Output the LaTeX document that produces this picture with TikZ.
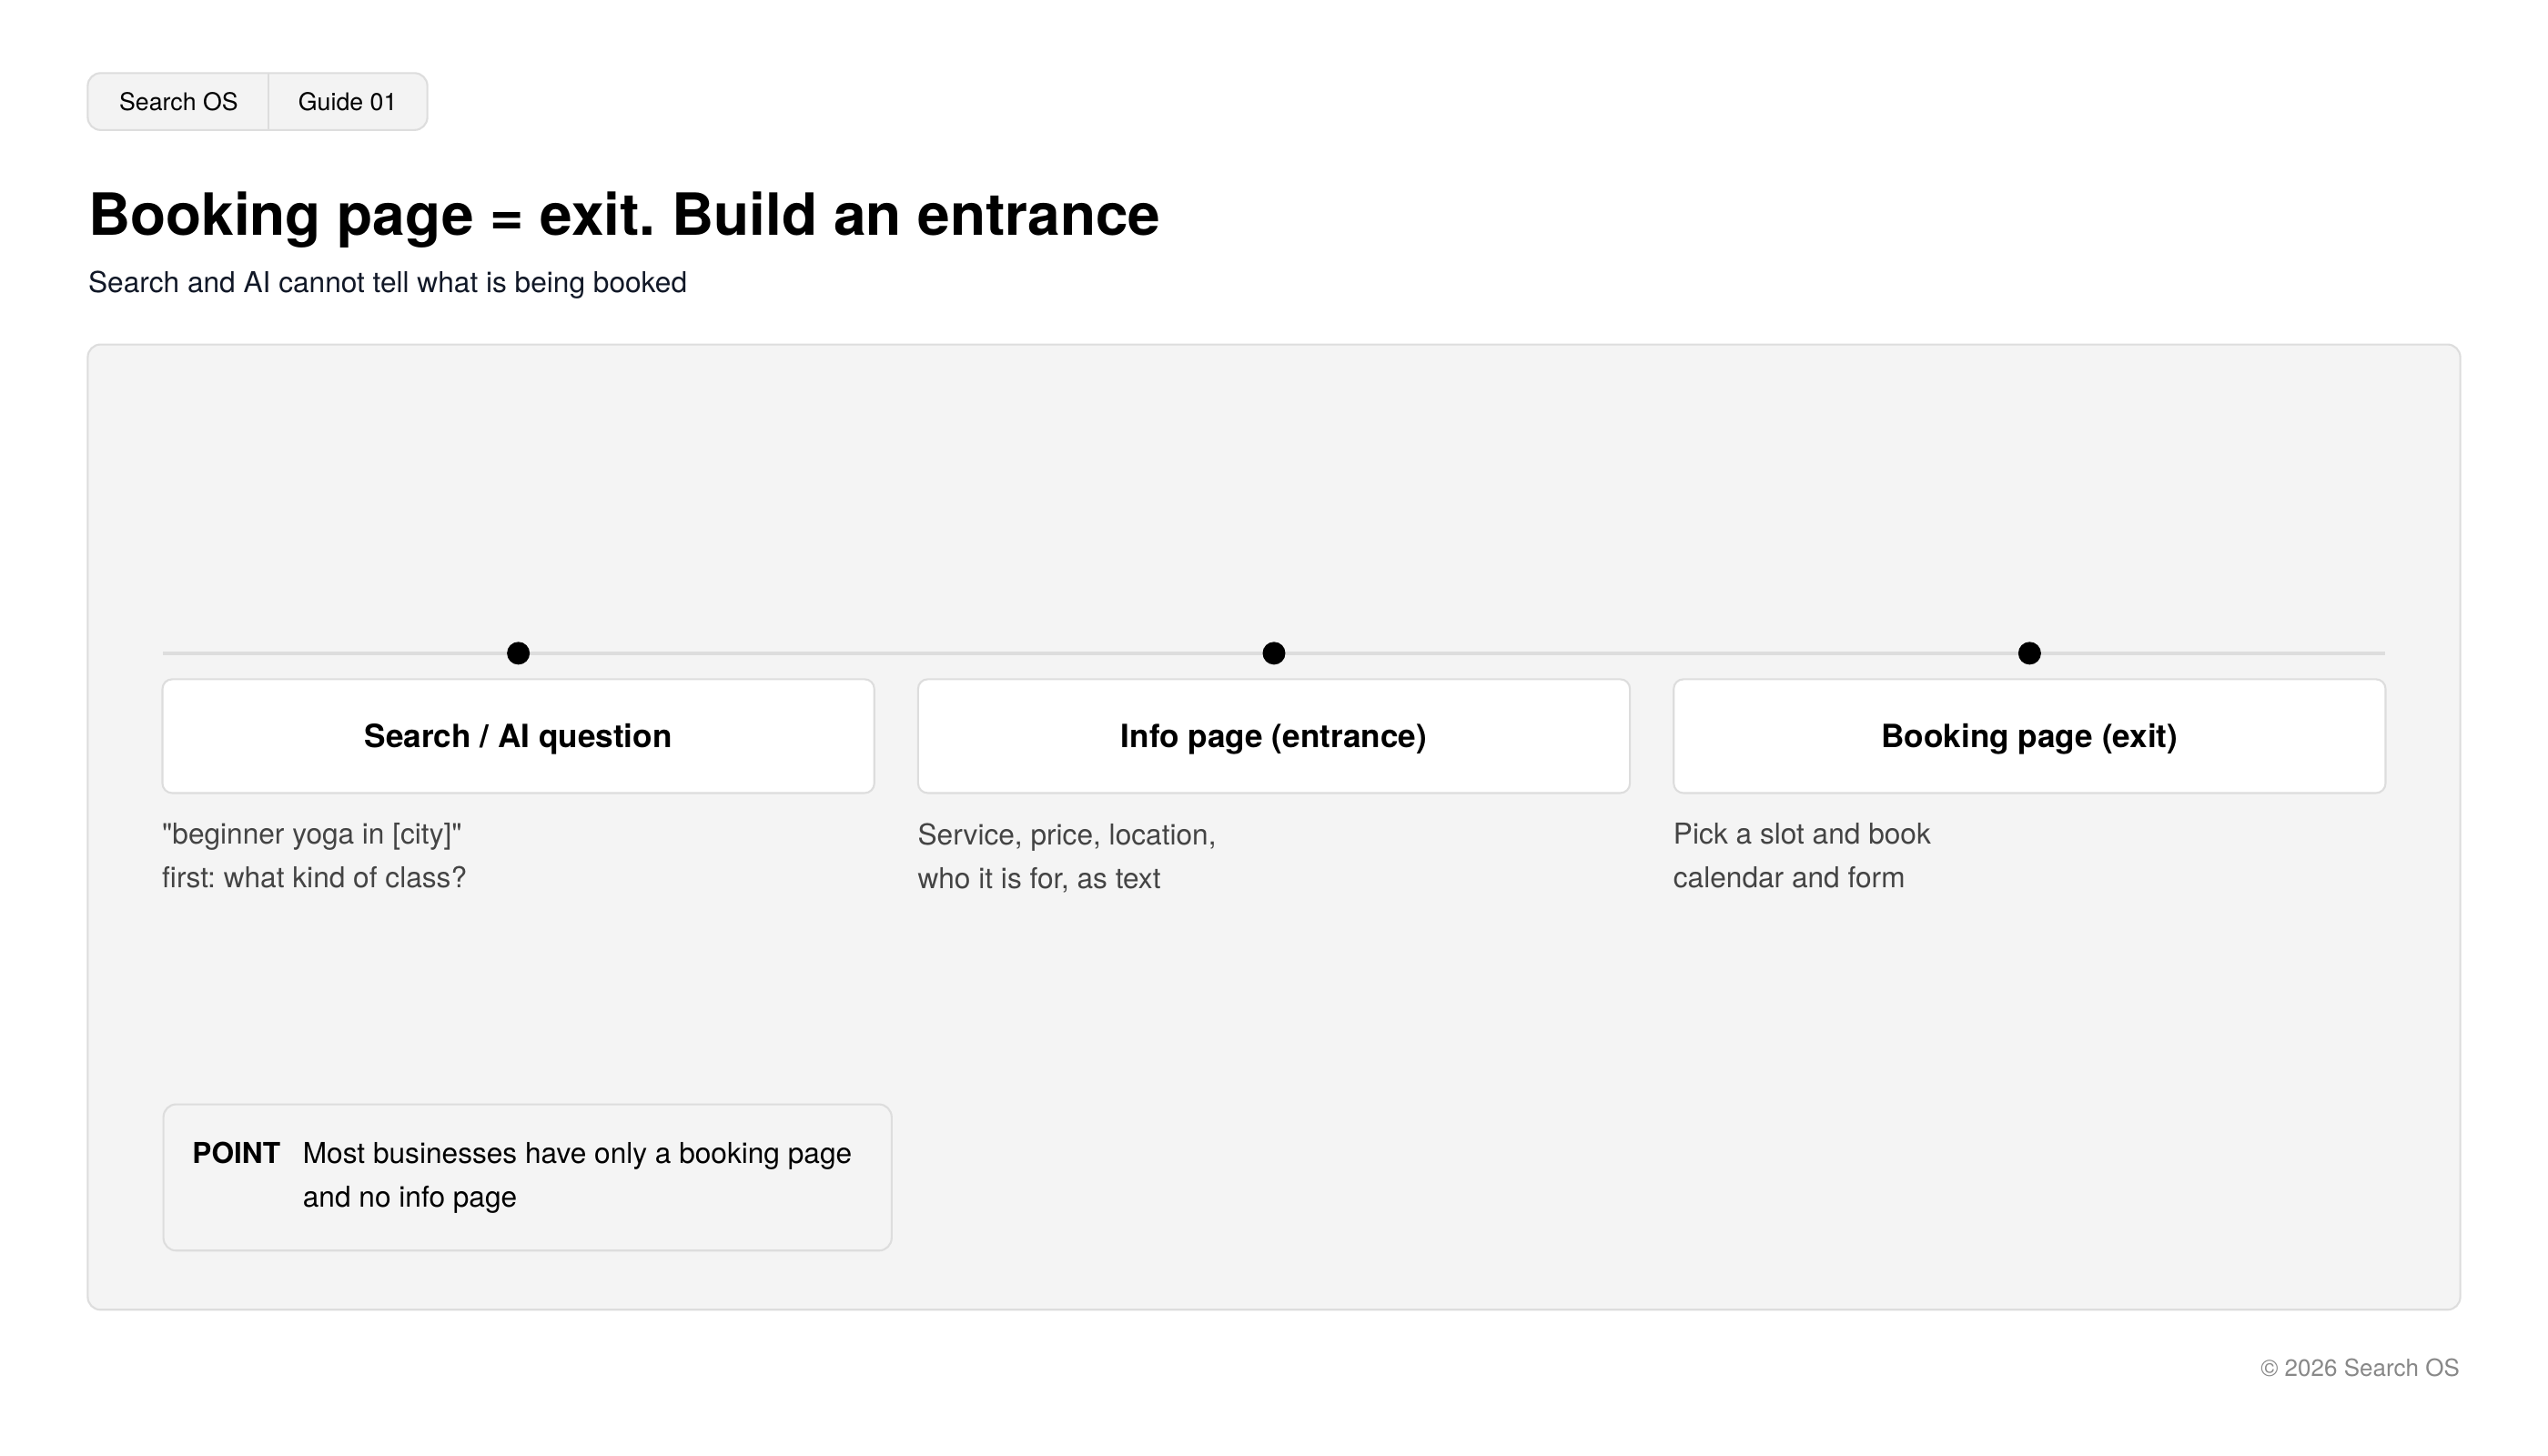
\documentclass[tikz,border=0pt]{standalone}
\usepackage{fontspec}
\setmainfont{TeX Gyre Heros}
\usetikzlibrary{positioning}
\frenchspacing

\definecolor{panelbg}{HTML}{F4F4F4}
\definecolor{tagbg}{HTML}{F3F3F3}
\definecolor{linegray}{HTML}{DDDDDD}
\definecolor{desctext}{HTML}{444444}
\definecolor{foottext}{HTML}{888888}
\definecolor{subtext}{HTML}{111827}

\begin{document}
\begin{tikzpicture}[x=0.017857cm,y=-0.017857cm,
  stage/.style={draw=linegray,line width=0.6pt,fill=white,rounded corners=3pt,
    minimum width=7.82cm,minimum height=1.25cm,inner sep=0pt,
    font=\bfseries\fontsize{10}{12}\selectfont,text height=7.2pt,text depth=0pt},
  note/.style={align=left,inner sep=0pt,text=desctext,font=\fontsize{9}{13.7}\selectfont},
  stopdot/.style={circle,fill=black,minimum size=0.25cm,inner sep=0pt},
  tagtext/.style={inner sep=0pt,font=\fontsize{7.6}{9}\selectfont}]
  \useasboundingbox (0,0) rectangle (1568,896);
  \fill[white] (0,0) rectangle (1568,896);

  \draw[linegray,fill=tagbg,line width=0.6pt,rounded corners=4pt] (54,45) rectangle (263,80);
  \coordinate (tagtop) at (165,45);
  \coordinate (tagbot) at (165,80);
  \draw[linegray,line width=0.6pt] (tagtop) -- (tagbot);
  \node[tagtext] (tagsite) at (110,62.5) {Search OS};
  \node[tagtext] (tagguide) at (214,62.5) {Guide 01};

  \node[anchor=base west,inner sep=0pt,font=\bfseries\fontsize{18.2}{22}\selectfont] (title) at (54,145) {Booking page = exit. Build an entrance};
  \node[anchor=base west,inner sep=0pt,text=subtext,font=\fontsize{9}{11}\selectfont] (subtitle) at (54,180) {Search and AI cannot tell what is being booked};

  \draw[linegray,fill=panelbg,line width=0.6pt,rounded corners=4pt] (54,212) rectangle (1514,806);

  \coordinate (railL) at (100,402);
  \coordinate (railR) at (1468,402);
  \draw[linegray,line width=1pt] (railL) -- (railR);

  \node[stage] (ask) at (319,453) {Search / AI question};
  \node[stage] (info) at (784,453) {Info page (entrance)};
  \node[stage] (book) at (1249,453) {Booking page (exit)};

  \node[stopdot] (askdot) at (ask |- railL) {};
  \node[stopdot] (infodot) at (info |- railL) {};
  \node[stopdot] (bookdot) at (book |- railL) {};

  \node[note,anchor=north west,below right=8.9pt and 0pt of ask.south west] (asknote) {\textquotedbl beginner yoga in [city]\textquotedbl\\first: what kind of class?};
  \node[note,anchor=north west,below right=8.9pt and 0pt of info.south west] (infonote) {Service, price, location,\\who it is for, as text};
  \node[note,anchor=north west,below right=8.9pt and 0pt of book.south west] (booknote) {Pick a slot and book\\calendar and form};

  \node[draw=linegray,fill=panelbg,line width=0.6pt,rounded corners=4pt,anchor=north west,
    minimum width=8cm,minimum height=1.607cm,inner sep=0pt] (pointbox) at (100,679) {};
  \node[anchor=base west,inner sep=0pt,font=\bfseries\fontsize{9}{11}\selectfont] (pointtag) at (118,716) {POINT};
  \node[anchor=base west,align=left,inner sep=0pt,font=\fontsize{9}{13.7}\selectfont] (pointtext) at (186,743) {Most businesses have only a booking page\\and no info page};

  \node[anchor=base east,inner sep=0pt,text=foottext,font=\fontsize{7.4}{9}\selectfont] (footer) at (1514,847) {© 2026 Search OS};
\end{tikzpicture}
\end{document}
